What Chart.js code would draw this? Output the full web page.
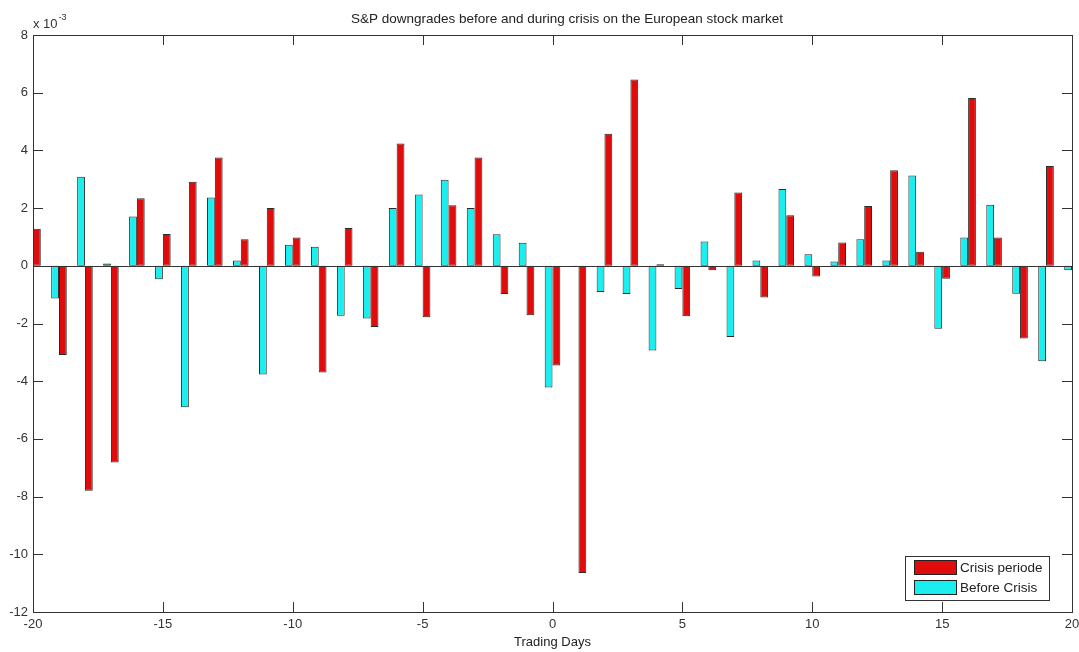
<!DOCTYPE html>
<html>
<head>
<meta charset="utf-8">
<title>S&amp;P downgrades</title>
<script src="https://cdn.jsdelivr.net/npm/chart.js@4.4.1/dist/chart.umd.min.js"></script>
<style>
  html, body { margin: 0; padding: 0; background: #fff; }
  #wrap { width: 1079px; height: 652px; }
</style>
</head>
<body>
<div id="wrap"><canvas id="chart" width="1079" height="652"></canvas></div>
<script>
// values are in units of 10^-3 (axis multiplier)
var days = [-20, -19, -18, -17, -16, -15, -14, -13, -12, -11, -10, -9, -8, -7, -6, -5, -4, -3, -2, -1,
            0, 1, 2, 3, 4, 5, 6, 7, 8, 9, 10, 11, 12, 13, 14, 15, 16, 17, 18, 19, 20];
var beforeCrisis = [null, -1.13, 3.09, 0.08, 1.71, -0.47, -4.90, 2.37, 0.18, -3.77, 0.73, 0.66, -1.73,
                    -1.83, 2.00, 2.47, 2.98, 2.00, 1.09, 0.80, -4.22, -0.04, -0.91, -0.98, -2.94, -0.80,
                    0.84, -2.47, 0.18, 2.66, 0.40, 0.15, 0.92, 0.18, 3.13, -2.18, 0.98, 2.12, -0.97, -3.31, -0.15];
var crisisPeriode = [1.28, -3.09, -7.80, -6.82, 2.34, 1.10, 2.91, 3.75, 0.92, 2.00, 0.98, -3.70, 1.31,
                     -2.12, 4.24, -1.78, 2.10, 3.75, -0.98, -1.71, -3.46, -10.65, 4.58, 6.46, 0.05, -1.75,
                     -0.15, 2.54, -1.10, 1.75, -0.37, 0.81, 2.07, 3.31, 0.49, -0.45, 5.82, 0.98, -2.52, 3.46, null];
var xTicks = [-20, -15, -10, -5, 0, 5, 10, 15, 20];
var yTicks = [-12, -10, -8, -6, -4, -2, 0, 2, 4, 6, 8];
var chartTitle = 'S&P downgrades before and during crisis on the European stock market';

var axisColor = '#333';
var textFont = '"Liberation Sans", Arial, Helvetica, sans-serif';

function toPoints(vals) {
  return days.map(function (d, i) { return { x: d, y: vals[i] }; });
}

// box, inward tick marks, title, exponent label and legend, MATLAB style
var matlabAxes = {
  id: 'matlabAxes',
  afterDatasetsDraw: function (chart) {
    var ctx = chart.ctx, a = chart.chartArea;
    var xs = chart.scales.x, ys = chart.scales.y;
    ctx.save();
    ctx.strokeStyle = axisColor;
    ctx.lineWidth = 1;

    // zero baseline
    var y0 = Math.round(ys.getPixelForValue(0)) + 0.5;
    ctx.beginPath();
    ctx.moveTo(a.left, y0); ctx.lineTo(a.right, y0);
    ctx.stroke();

    // frame
    ctx.strokeRect(Math.round(a.left) + 0.5, Math.round(a.top) + 0.5,
                   Math.round(a.right - a.left), Math.round(a.bottom - a.top));

    // inward ticks
    ctx.beginPath();
    xTicks.forEach(function (v) {
      var px = Math.round(xs.getPixelForValue(v)) + 0.5;
      ctx.moveTo(px, a.bottom); ctx.lineTo(px, a.bottom - 10);
      ctx.moveTo(px, a.top); ctx.lineTo(px, a.top + 10);
    });
    yTicks.forEach(function (v) {
      var py = Math.round(ys.getPixelForValue(v)) + 0.5;
      ctx.moveTo(a.left, py); ctx.lineTo(a.left + 10, py);
      ctx.moveTo(a.right, py); ctx.lineTo(a.right - 10, py);
    });
    ctx.stroke();

    // title
    ctx.fillStyle = '#222';
    ctx.textBaseline = 'middle';
    ctx.textAlign = 'center';
    ctx.font = '13.5px ' + textFont;
    ctx.fillText(chartTitle, 567, 19);

    // exponent
    ctx.fillStyle = '#333';
    ctx.textBaseline = 'alphabetic';
    ctx.textAlign = 'left';
    ctx.font = '13px ' + textFont;
    ctx.fillText('x 10', a.left, a.top - 7);
    var ew = ctx.measureText('x 10').width;
    ctx.font = '9px ' + textFont;
    ctx.fillText('-3', a.left + ew + 1, a.top - 15);

    // legend (reversed dataset order, as in the original)
    var lx = 905, ly = 556, lw = 144, lh = 44;
    ctx.fillStyle = '#fff';
    ctx.fillRect(lx, ly, lw, lh);
    ctx.strokeStyle = axisColor;
    ctx.strokeRect(lx + 0.5, ly + 0.5, lw, lh);
    var sets = chart.data.datasets.slice().reverse();
    ctx.font = '13.5px ' + textFont;
    ctx.textBaseline = 'middle';
    sets.forEach(function (ds, i) {
      var sy = ly + 4 + i * 20;
      ctx.fillStyle = ds.backgroundColor;
      ctx.fillRect(lx + 9, sy, 42, 14);
      ctx.strokeStyle = '#222';
      ctx.strokeRect(lx + 9.5, sy + 0.5, 42, 14);
      ctx.fillStyle = '#222';
      ctx.fillText(ds.label, lx + 55, sy + 8);
    });
    ctx.restore();
  }
};

new Chart(document.getElementById('chart'), {
  type: 'bar',
  data: {
    datasets: [
      {
        label: 'Before Crisis',
        data: toPoints(beforeCrisis),
        backgroundColor: '#1aeeee',
        borderColor: '#2a2a2a',
        borderWidth: 1,
        borderSkipped: false,
        clip: 0
      },
      {
        label: 'Crisis periode',
        data: toPoints(crisisPeriode),
        backgroundColor: '#e00c0c',
        borderColor: '#2a2a2a',
        borderWidth: 1,
        borderSkipped: false,
        clip: 0
      }
    ]
  },
  options: {
    responsive: false,
    animation: false,
    categoryPercentage: 0.6,
    barPercentage: 1.0,
    layout: { padding: { left: 0, right: 0, top: 35, bottom: 0 } },
    plugins: {
      legend: { display: false },
      tooltip: { enabled: false },
      title: { display: false }
    },
    scales: {
      x: {
        type: 'linear',
        min: -20,
        max: 20,
        offset: false,
        grid: { display: false, drawTicks: false },
        border: { display: false },
        ticks: {
          stepSize: 5,
          padding: 5,
          color: '#333',
          font: { family: textFont, size: 13 }
        },
        title: {
          display: true,
          text: 'Trading Days',
          color: '#222',
          font: { family: textFont, size: 13 },
          padding: { top: 0, bottom: 2 }
        },
        afterFit: function (scale) {
          scale.height = 40;
          scale.paddingLeft = 0;
          scale.paddingRight = 7;
        }
      },
      y: {
        min: -12,
        max: 8,
        grid: { display: false, drawTicks: false },
        border: { display: false },
        ticks: {
          stepSize: 2,
          padding: 5,
          color: '#333',
          font: { family: textFont, size: 13 }
        },
        afterFit: function (scale) { scale.width = 33; }
      }
    }
  },
  plugins: [matlabAxes]
});
</script>
</body>
</html>
